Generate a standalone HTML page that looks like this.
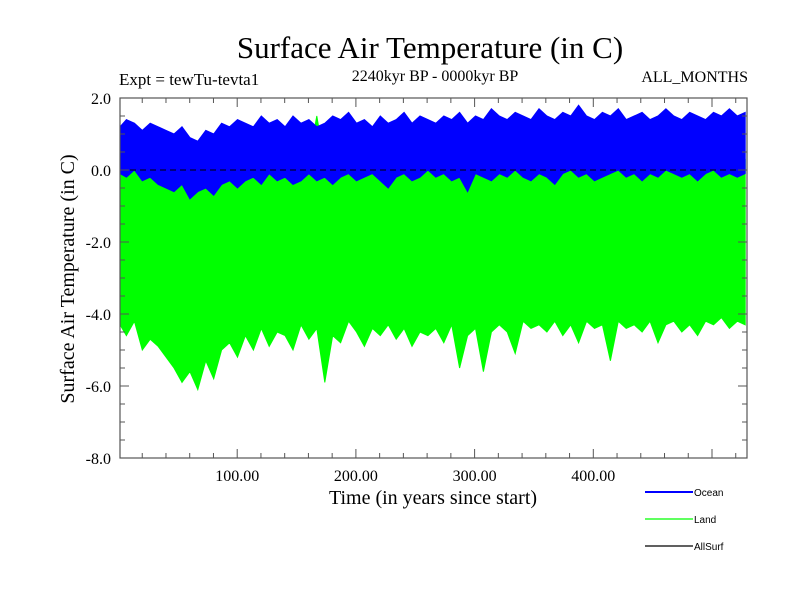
<!DOCTYPE html>
<html><head><meta charset="utf-8"><style>
body{margin:0;background:#fff;width:800px;height:600px;overflow:hidden}
svg{display:block}
</style></head><body>
<svg id="chart" width="800" height="600" xmlns="http://www.w3.org/2000/svg">
<text x="430" y="58" text-anchor="middle" font-family="Liberation Serif, serif" font-size="31">Surface Air Temperature (in C)</text>
<text x="435" y="81" text-anchor="middle" font-family="Liberation Serif, serif" font-size="16">2240kyr BP - 0000kyr BP</text>
<text x="119" y="85" font-family="Liberation Serif, serif" font-size="17">Expt = tewTu-tevta1</text>
<text x="748" y="82" text-anchor="end" font-family="Liberation Serif, serif" font-size="16">ALL_MONTHS</text>
<text transform="translate(74,279) rotate(-90)" text-anchor="middle" font-family="Liberation Serif, serif" font-size="20">Surface Air Temperature (in C)</text>
<text x="433" y="504" text-anchor="middle" font-family="Liberation Serif, serif" font-size="20">Time (in years since start)</text>
<g id="plot"></g>
<g id="axes"></g>
<g font-family="Liberation Sans, sans-serif" font-size="10">
<line x1="645" y1="492" x2="693" y2="492" stroke="#0000ff" stroke-width="2"/>
<text x="694" y="496">Ocean</text>
<line x1="645" y1="519" x2="693" y2="519" stroke="#00ff00" stroke-width="1.2"/>
<text x="694" y="523">Land</text>
<line x1="645" y1="546" x2="693" y2="546" stroke="#000" stroke-width="1.2"/>
<text x="694" y="550">AllSurf</text>
</g>
</svg>
<script>
const yTicks=[2.0,0.0,-2.0,-4.0,-6.0,-8.0];
const yTickLabels=["2.0","0.0","-2.0","-4.0","-6.0","-8.0"];
const xTicks=[100,200,300,400];
const xTickLabels=["100.00","200.00","300.00","400.00"];
const years=[0,528];
const landMin=[-4.3,-4.6,-4.2,-5.0,-4.7,-4.9,-5.2,-5.5,-5.9,-5.6,-6.1,-5.3,-5.8,-5.0,-4.8,-5.2,-4.6,-5.0,-4.4,-4.9,-4.5,-4.6,-5.0,-4.3,-4.7,-4.4,-5.9,-4.6,-4.8,-4.2,-4.5,-4.9,-4.4,-4.6,-4.3,-4.7,-4.4,-4.9,-4.5,-4.6,-4.4,-4.8,-4.3,-5.5,-4.6,-4.4,-5.6,-4.5,-4.3,-4.5,-5.1,-4.2,-4.4,-4.3,-4.5,-4.2,-4.6,-4.3,-4.8,-4.2,-4.4,-4.3,-5.3,-4.2,-4.4,-4.3,-4.5,-4.2,-4.8,-4.3,-4.2,-4.5,-4.3,-4.6,-4.2,-4.3,-4.1,-4.4,-4.2,-4.3];
const landMax=[0.2,0.1,0.3,0.0,0.2,0.1,0.0,-0.1,0.1,-0.2,0.0,0.1,-0.1,0.2,0.1,0.0,0.2,0.1,0.3,0.2,0.1,0.3,0.2,0.1,0.3,1.5,0.2,0.1,0.3,0.2,0.1,0.3,0.2,0.4,0.1,0.3,0.2,0.1,0.3,0.2,0.4,0.2,0.3,0.1,0.2,0.4,0.3,0.2,0.3,0.4,0.2,0.3,0.4,0.2,0.3,0.5,0.3,0.2,0.4,0.3,0.5,0.3,0.2,0.4,0.3,0.5,0.3,0.2,0.4,0.3,0.5,0.3,0.4,0.2,0.4,0.3,0.5,0.3,0.4,0.3];
const oceanMax=[1.2,1.4,1.3,1.1,1.3,1.2,1.1,1.0,1.2,0.9,0.8,1.1,1.0,1.3,1.2,1.4,1.3,1.2,1.5,1.3,1.4,1.2,1.5,1.3,1.4,1.2,1.3,1.5,1.4,1.6,1.3,1.4,1.2,1.5,1.3,1.4,1.6,1.3,1.5,1.4,1.3,1.5,1.4,1.6,1.3,1.5,1.4,1.7,1.5,1.4,1.6,1.5,1.4,1.7,1.5,1.4,1.6,1.5,1.8,1.5,1.4,1.6,1.5,1.7,1.4,1.5,1.6,1.4,1.5,1.7,1.5,1.4,1.6,1.5,1.4,1.6,1.5,1.7,1.5,1.6];
const oceanMin=[-0.1,-0.2,0.0,-0.3,-0.2,-0.4,-0.5,-0.6,-0.4,-0.8,-0.6,-0.5,-0.7,-0.4,-0.3,-0.5,-0.3,-0.2,-0.4,-0.1,-0.3,-0.2,-0.4,-0.3,-0.1,-0.3,-0.2,-0.4,-0.2,-0.1,-0.3,-0.2,-0.1,-0.3,-0.5,-0.2,-0.1,-0.3,-0.2,0.0,-0.2,-0.1,-0.3,-0.2,-0.6,-0.1,-0.2,-0.3,-0.1,-0.2,0.0,-0.2,-0.3,-0.1,-0.2,-0.4,-0.1,0.0,-0.2,-0.1,-0.3,-0.2,-0.1,0.0,-0.2,-0.1,-0.3,-0.1,-0.2,0.0,-0.1,-0.2,-0.1,-0.3,-0.1,0.0,-0.2,-0.1,-0.2,-0.1];

const L=120,R=747,T=98,B=458;
const X0=118.5,PX=1.187;
function xs(v){return Math.max(L,Math.min(R,X0+v*PX));}
function ys(v){return T+(2-v)*(B-T)/10;}
const NS="http://www.w3.org/2000/svg";
const plot=document.getElementById('plot'),axes=document.getElementById('axes');
function mk(tag,attrs,parent){const e=document.createElementNS(NS,tag);for(const k in attrs)e.setAttribute(k,attrs[k]);parent.appendChild(e);return e;}
function yearAt(i,n){return years[0]+(years[1]-years[0])*i/(n-1);}
function band(lo,hi,color){
  let d='';const n=hi.length;
  for(let i=0;i<n;i++)d+=(i?'L':'M')+xs(yearAt(i,n)).toFixed(1)+','+ys(hi[i]).toFixed(1);
  for(let i=n-1;i>=0;i--)d+='L'+xs(yearAt(i,n)).toFixed(1)+','+ys(lo[i]).toFixed(1);
  return mk('path',{d:d+'Z',fill:color,stroke:color,'stroke-width':1},plot);
}
const land=band(landMin,landMax,'#00ff00');


const ocean=band(oceanMin,oceanMax,'#0000ff');


const zl=mk('line',{x1:L,x2:R,y1:ys(0),y2:ys(0),stroke:'#000','stroke-width':1,'stroke-dasharray':'6,4'},plot);



const frame=mk('rect',{x:L,y:T,width:R-L,height:B-T,fill:'none',stroke:'#555','stroke-width':1.2},axes);


// y ticks
for(let v=-8;v<=2.001;v+=0.5){
  const y=ys(v),major=Math.abs(v/2-Math.round(v/2))<1e-6,len=major?9:5;
  mk('line',{x1:L,x2:L+len,y1:y,y2:y,stroke:'#555'},axes);
  mk('line',{x1:R,x2:R-len,y1:y,y2:y,stroke:'#555'},axes);
}
yTicks.forEach((v,i)=>{
  const t=mk('text',{x:L-9,y:ys(v)+6,'text-anchor':'end','font-family':'Liberation Serif, serif','font-size':16},axes);
  t.textContent=yTickLabels[i];
  
  
});
for(let v=20;v<=520;v+=20){
  const x=X0+v*PX,major=v%100===0,len=major?9:5;
  mk('line',{x1:x,x2:x,y1:B,y2:B-len,stroke:'#555'},axes);
  mk('line',{x1:x,x2:x,y1:T,y2:T+len,stroke:'#555'},axes);
}
xTicks.forEach((v,i)=>{
  const t=mk('text',{x:X0+v*PX,y:B+23,'text-anchor':'middle','font-family':'Liberation Serif, serif','font-size':16},axes);
  t.textContent=xTickLabels[i];
  
  
});
</script>
</body></html>
